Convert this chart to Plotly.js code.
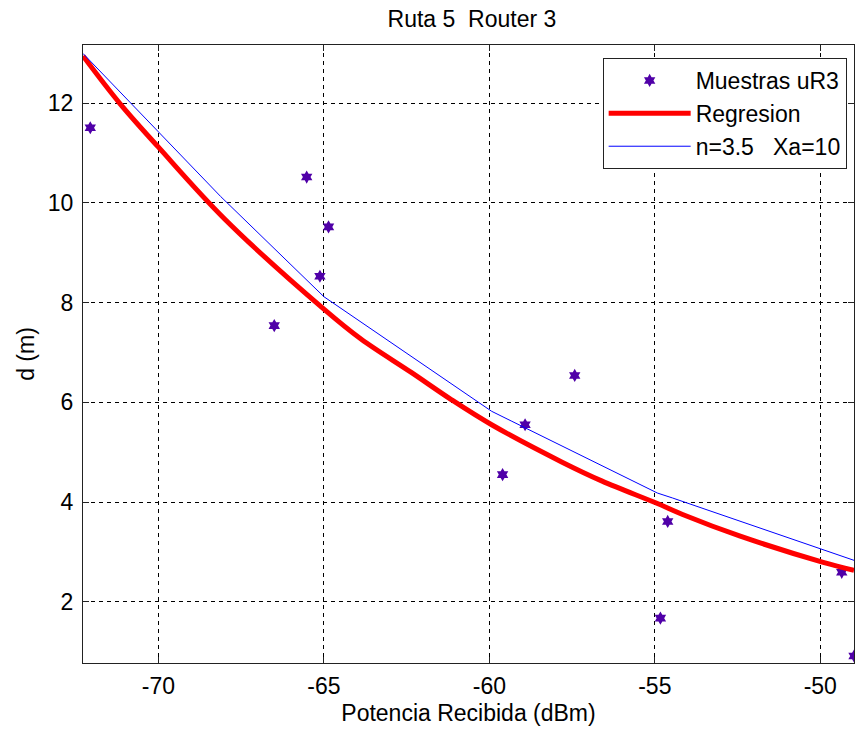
<!DOCTYPE html>
<html>
<head>
<meta charset="utf-8">
<script src="https://cdn.plot.ly/plotly-3.0.1.min.js"></script>
<style>html,body{margin:0;padding:0;background:#fff;}#chart{width:855px;height:729px;}</style>
</head>
<body>
<div id="chart"></div>
<script>
// Sample points (Muestras uR3)
const sampleX = [-72.06, -66.50, -65.52, -65.12, -64.86, -59.60, -58.92, -57.42, -54.83, -54.61, -49.35, -48.98];
const sampleY = [11.51, 7.54, 10.52, 8.53, 9.52, 4.55, 5.55, 6.54, 1.67, 3.61, 2.59, 0.91];

// Regression curve
const regX = [-72.28, -71.17, -70.00, -68.00, -65.00, -63.88, -62.36, -61.14, -59.93, -57.80, -56.59, -54.92, -54.16, -52.44, -49.91, -48.98];
const regY = [12.95, 12.00, 11.12, 9.68, 7.87, 7.27, 6.60, 6.05, 5.55, 4.80, 4.42, 3.97, 3.75, 3.32, 2.79, 2.63];

// Model curve n=3.5 Xa=10
const modX = [-72.28, -70.00, -68.12, -65.00, -63.98, -59.93, -59.32, -54.92, -54.46, -49.91, -48.98];
const modY = [13.00, 11.42, 10.13, 8.12, 7.66, 5.82, 5.62, 4.18, 4.08, 3.03, 2.83];

const xTicks = [-70, -65, -60, -55, -50];
const yTicks = [2, 4, 6, 8, 10, 12];

const FONT = 'Liberation Sans, Arial, sans-serif';
const FS = 23;

const traces = [
  {x: sampleX, y: sampleY, mode: 'markers', type: 'scatter', name: 'Muestras uR3',
   marker: {symbol: 'hexagram', size: 10, color: '#5000a8'}},
  {x: regX, y: regY, mode: 'lines', type: 'scatter', name: 'Regresion',
   line: {color: '#ff0000', width: 5, shape: 'spline', smoothing: 1}},
  {x: modX, y: modY, mode: 'lines', type: 'scatter', name: 'n=3.5   Xa=10',
   line: {color: '#0000ff', width: 1}}
];

const axisCommon = {
  showline: true, linecolor: '#222', linewidth: 1, mirror: 'ticks',
  ticks: 'inside', ticklen: 6, tickcolor: '#222', tickwidth: 1,
  showgrid: true, gridcolor: '#000', gridwidth: 1, griddash: '4px,4px',
  zeroline: false, tickfont: {family: FONT, size: FS, color: '#000'}
};

const layout = {
  width: 855, height: 729,
  paper_bgcolor: '#fff', plot_bgcolor: '#fff',
  margin: {l: 83, r: 1, t: 45, b: 66},
  showlegend: true,
  title: {text: 'Ruta 5  Router 3', font: {family: FONT, size: FS, color: '#000'},
          x: 0.552, xanchor: 'center', y: 0.974, yanchor: 'middle'},
  xaxis: Object.assign({}, axisCommon, {
    range: [-72.28, -48.98], tickvals: xTicks, ticktext: xTicks.map(String),
    ticklabelstandoff: 2,
    title: {text: 'Potencia Recibida (dBm)', font: {family: FONT, size: FS, color: '#000'}, standoff: 7}
  }),
  yaxis: Object.assign({}, axisCommon, {
    range: [0.77, 13.17], tickvals: yTicks, ticktext: yTicks.map(String),
    ticklabelstandoff: 4,
    title: {text: 'd (m)', font: {family: FONT, size: FS, color: '#000'}, standoff: 6}
  }),
  legend: {
    x: 0.674, y: 0.979, xanchor: 'left', yanchor: 'top',
    bgcolor: '#fff', bordercolor: '#222', borderwidth: 1,
    font: {family: FONT, size: FS, color: '#000'},
    itemwidth: 82, tracegroupgap: 0, entrywidth: 248, entrywidthmode: 'pixels'
  }
};

Plotly.newPlot('chart', traces, layout, {displayModeBar: false, staticPlot: true});
</script>
</body>
</html>
